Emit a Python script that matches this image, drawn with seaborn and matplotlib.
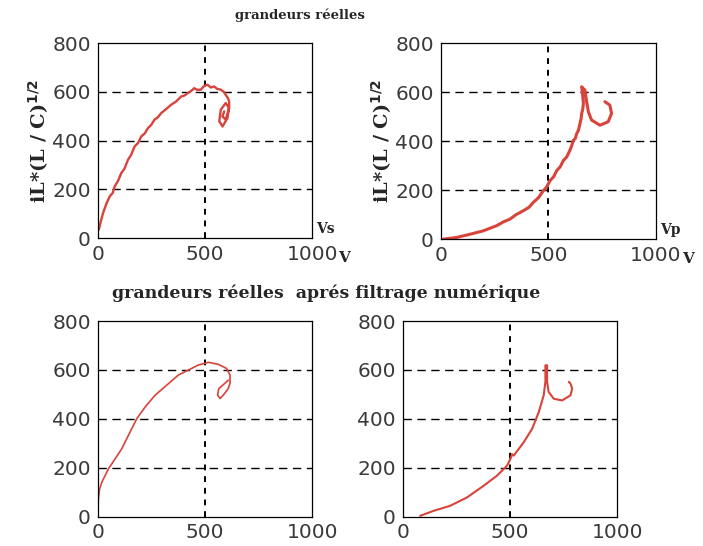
"""
Trajectoires iL*(L/C)^1/2 en fonction de Vs et Vp, brutes et filtrees.
"""

import matplotlib
matplotlib.use("Agg")
import matplotlib.pyplot as plt
import pandas as pd
import seaborn as sns

# grandeurs reelles
VS_RAW = [5, 15, 25, 40, 56, 70, 79, 95, 110, 125, 141, 155, 172, 188, 203, 220, 234, 250,
          265, 280, 296, 320, 342, 365, 389, 405, 420, 435, 450, 465, 481, 497, 512, 527,
          543, 558, 574, 588, 597, 607, 613,
          613, 605, 582, 567, 574, 597, 613, 597, 582, 590]
IL_VS_RAW = [34, 70, 103, 140, 171, 185, 212, 235, 267, 285, 321, 340, 376, 390, 417, 430, 451, 465,
             486, 495, 513, 530, 547, 560, 581, 585, 595, 603, 615, 608, 609, 625, 629, 618,
             622, 612, 609, 600, 588, 575, 561,
             540, 492, 458, 479, 527, 554, 533, 486, 499, 520]

VP_RAW = [12, 74, 136, 198, 230, 260, 290, 322, 350, 384, 410, 430, 455, 477, 490, 508, 525,
          539, 555, 570, 585, 600, 608, 616, 625, 632, 640, 647, 652, 655, 660, 663, 658,
          655, 662, 670, 678, 686, 701, 740, 778, 794, 786, 763]
IL_VP_RAW = [0, 7, 20, 34, 45, 55, 70, 82, 100, 116, 130, 150, 170, 198, 210, 239, 255,
             280, 295, 321, 335, 362, 380, 403, 410, 431, 445, 472, 490, 513, 530, 554, 600,
             622, 615, 609, 561, 520, 486, 465, 479, 513, 547, 561]

# apres filtrage numerique
VS_FILT = [0, 3, 8, 19, 50, 81, 112, 143, 182, 221, 267, 321, 376, 422, 469, 516, 562, 601,
           617, 617, 609, 586, 571, 559, 565, 593, 609]
IL_VS_FILT = [3, 71, 110, 140, 195, 236, 277, 332, 400, 448, 496, 537, 579, 599, 620, 631, 623, 606,
              579, 545, 524, 497, 483, 497, 524, 545, 558]

VP_FILT = [81, 143, 221, 299, 377, 439, 486, 502, 509, 517, 564, 603, 634, 657, 665, 665,
           673, 673, 680, 704, 743, 782, 790, 782, 774]
IL_VP_FILT = [3, 23, 44, 78, 126, 167, 208, 236, 255, 249, 304, 359, 427, 496, 551, 619,
              619, 551, 510, 482, 475, 496, 523, 544, 551]

X_TICKS = [0, 500, 1000]
Y_TICKS = [0, 200, 400, 600, 800]
RED = "#d8433b"

sns.set_style("white")
plt.rcParams["font.family"] = ["DejaVu Sans"]

fig = plt.figure(figsize=(7.03, 5.46), dpi=100)
positions = [
    [0.139, 0.564, 0.305, 0.357],
    [0.627, 0.562, 0.306, 0.359],
    [0.139, 0.054, 0.305, 0.358],
    [0.573, 0.054, 0.305, 0.358],
]
series = [
    (VS_RAW, IL_VS_RAW, 1.7),
    (VP_RAW, IL_VP_RAW, 2.2),
    (VS_FILT, IL_VS_FILT, 1.2),
    (VP_FILT, IL_VP_FILT, 1.5),
]

axes = []
for pos, (x, y, lw) in zip(positions, series):
    ax = fig.add_axes(pos)
    df = pd.DataFrame({"v": x, "il": y})
    sns.lineplot(data=df, x="v", y="il", sort=False, estimator=None,
                 color=RED, linewidth=lw, ax=ax)
    ax.set_xlim(0, 1000)
    ax.set_ylim(0, 800)
    ax.set_xticks(X_TICKS)
    ax.set_yticks(Y_TICKS)
    ax.tick_params(labelsize=14.5, length=0, pad=5, labelcolor="#3a3a3a")
    ax.set_xlabel("")
    ax.set_ylabel("")
    for yv in [200, 400, 600]:
        ax.axhline(yv, color="black", lw=1.0, ls=(0, (6, 4)), zorder=0)
    ax.axvline(500, color="black", lw=1.4, ls=(0, (3, 3)), zorder=0)
    for s in ax.spines.values():
        s.set_color("black")
        s.set_linewidth(0.9)
    axes.append(ax)

serif_bold = dict(family="DejaVu Serif", fontweight="bold")

for ax, name in zip(axes[:2], ["Vs", "Vp"]):
    ax.set_ylabel(r"iL*(L / C)$^{\mathbf{1/2}}$", fontsize=14, labelpad=1, **serif_bold)
    ax.text(1.02, 0.045, name, transform=ax.transAxes,
            fontsize=10, ha="left", va="center", **serif_bold)
    ax.text(1.12, -0.1, "V", transform=ax.transAxes, fontsize=11,
            ha="left", va="center", **serif_bold)

fig.text(0.427, 0.972, "grandeurs réelles", fontsize=9.5, ha="center", va="center", **serif_bold)
fig.text(0.464, 0.463, "grandeurs réelles  aprés filtrage numérique", fontsize=12.5,
         ha="center", va="center", **serif_bold)

plt.savefig("out.png", dpi=100)
plt.close()
